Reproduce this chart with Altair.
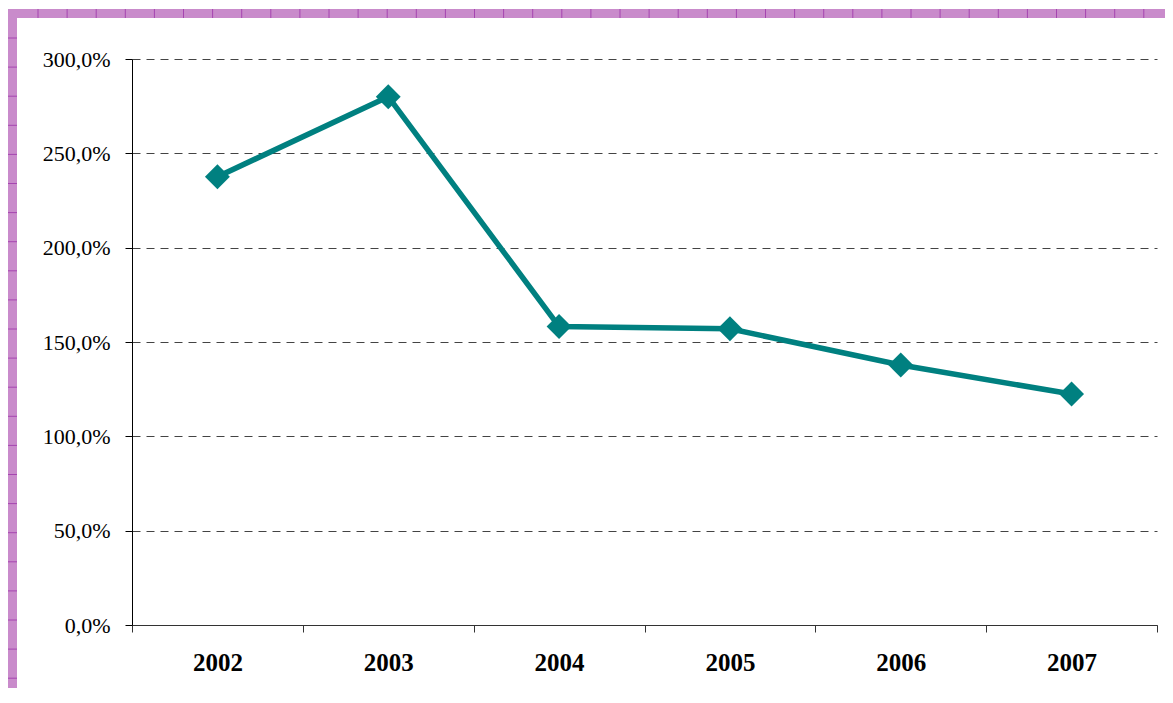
import altair as alt
import pandas as pd

years = ["2002", "2003", "2004", "2005", "2006", "2007"]
values = [237.6, 280.0, 158.2, 157.0, 137.8, 122.4]

# decorative frame tick positions (pixels in chart space)
frame_top_ticks = [30 + 29.1 * i for i in range(40)]
frame_left_ticks = [30 + 29.1 * i for i in range(23)]

W, H = 1025, 566
PAD_L, PAD_T, PAD_R, PAD_B = 124, 51, 8, 63
TOTAL_W = W + PAD_L + PAD_R
TOTAL_H = H + PAD_T + PAD_B

df = pd.DataFrame({"year": years, "value": values})

line = alt.Chart(df).mark_line(color="#008080", strokeWidth=5.5).encode(
    x=alt.X(
        "year:N",
        scale=alt.Scale(paddingInner=0, paddingOuter=0),
        axis=alt.Axis(
            title=None,
            labelAngle=0,
            labelFont="Liberation Serif",
            labelFontSize=25,
            labelFontWeight="bold",
            labelColor="#000000",
            labelPadding=18,
            tickBand="extent",
            tickSize=7,
            tickColor="#333333",
            domainColor="#333333",
            grid=False,
        ),
    ),
    y=alt.Y(
        "value:Q",
        scale=alt.Scale(domain=[0, 300]),
        axis=alt.Axis(
            title=None,
            values=[0, 50, 100, 150, 200, 250, 300],
            labelExpr="replace(format(datum.value, '.1f'), '.', ',') + '%'",
            labelFont="Liberation Serif",
            labelFontSize=22,
            labelColor="#000000",
            labelPadding=15,
            tickSize=7,
            tickColor="#000000",
            domainColor="#000000",
            grid=True,
            gridColor="#444444",
            gridDash=[8, 6],
            gridWidth=1,
        ),
    ),
)

points = alt.Chart(df).mark_point(
    shape="diamond", filled=True, size=620, color="#008080", opacity=1
).encode(x="year:N", y="value:Q")

main = alt.layer(line, points)

one = pd.DataFrame({"k": [0]})
strip_color = "#c98bcb"
top_strip = alt.Chart(one).mark_rect(color=strip_color).encode(
    x=alt.value(-PAD_L), x2=alt.value(W + PAD_R),
    y=alt.value(-PAD_T + 1), y2=alt.value(-PAD_T + 10),
)
left_strip = alt.Chart(one).mark_rect(color=strip_color).encode(
    x=alt.value(-PAD_L), x2=alt.value(-PAD_L + 9),
    y=alt.value(-PAD_T + 1), y2=alt.value(H + PAD_B),
)

tt = pd.DataFrame({"px": frame_top_ticks})
top_ticks = alt.Chart(tt).mark_rule(color="#a545b0", strokeWidth=1).encode(
    x=alt.X("px:Q", scale=alt.Scale(domain=[0, TOTAL_W], range=[-PAD_L, W + PAD_R]), axis=None),
    y=alt.value(-PAD_T + 1), y2=alt.value(-PAD_T + 10),
)
lt = pd.DataFrame({"py": frame_left_ticks})
left_ticks = alt.Chart(lt).mark_rule(color="#a545b0", strokeWidth=1).encode(
    y=alt.Y("py:Q", scale=alt.Scale(domain=[0, TOTAL_H], range=[-PAD_T, H + PAD_B]), axis=None),
    x=alt.value(-PAD_L), x2=alt.value(-PAD_L + 9),
)

deco = alt.layer(top_strip, left_strip, top_ticks, left_ticks)

chart = alt.layer(deco, main).resolve_scale(x="independent", y="independent").properties(
    width=W,
    height=H,
    padding={"left": PAD_L, "top": PAD_T, "right": PAD_R, "bottom": PAD_B},
    autosize=alt.AutoSizeParams(type="none"),
    background="#ffffff",
).configure_view(stroke=None)

chart.save("out.html", embed_options={"renderer": "svg", "actions": False})
